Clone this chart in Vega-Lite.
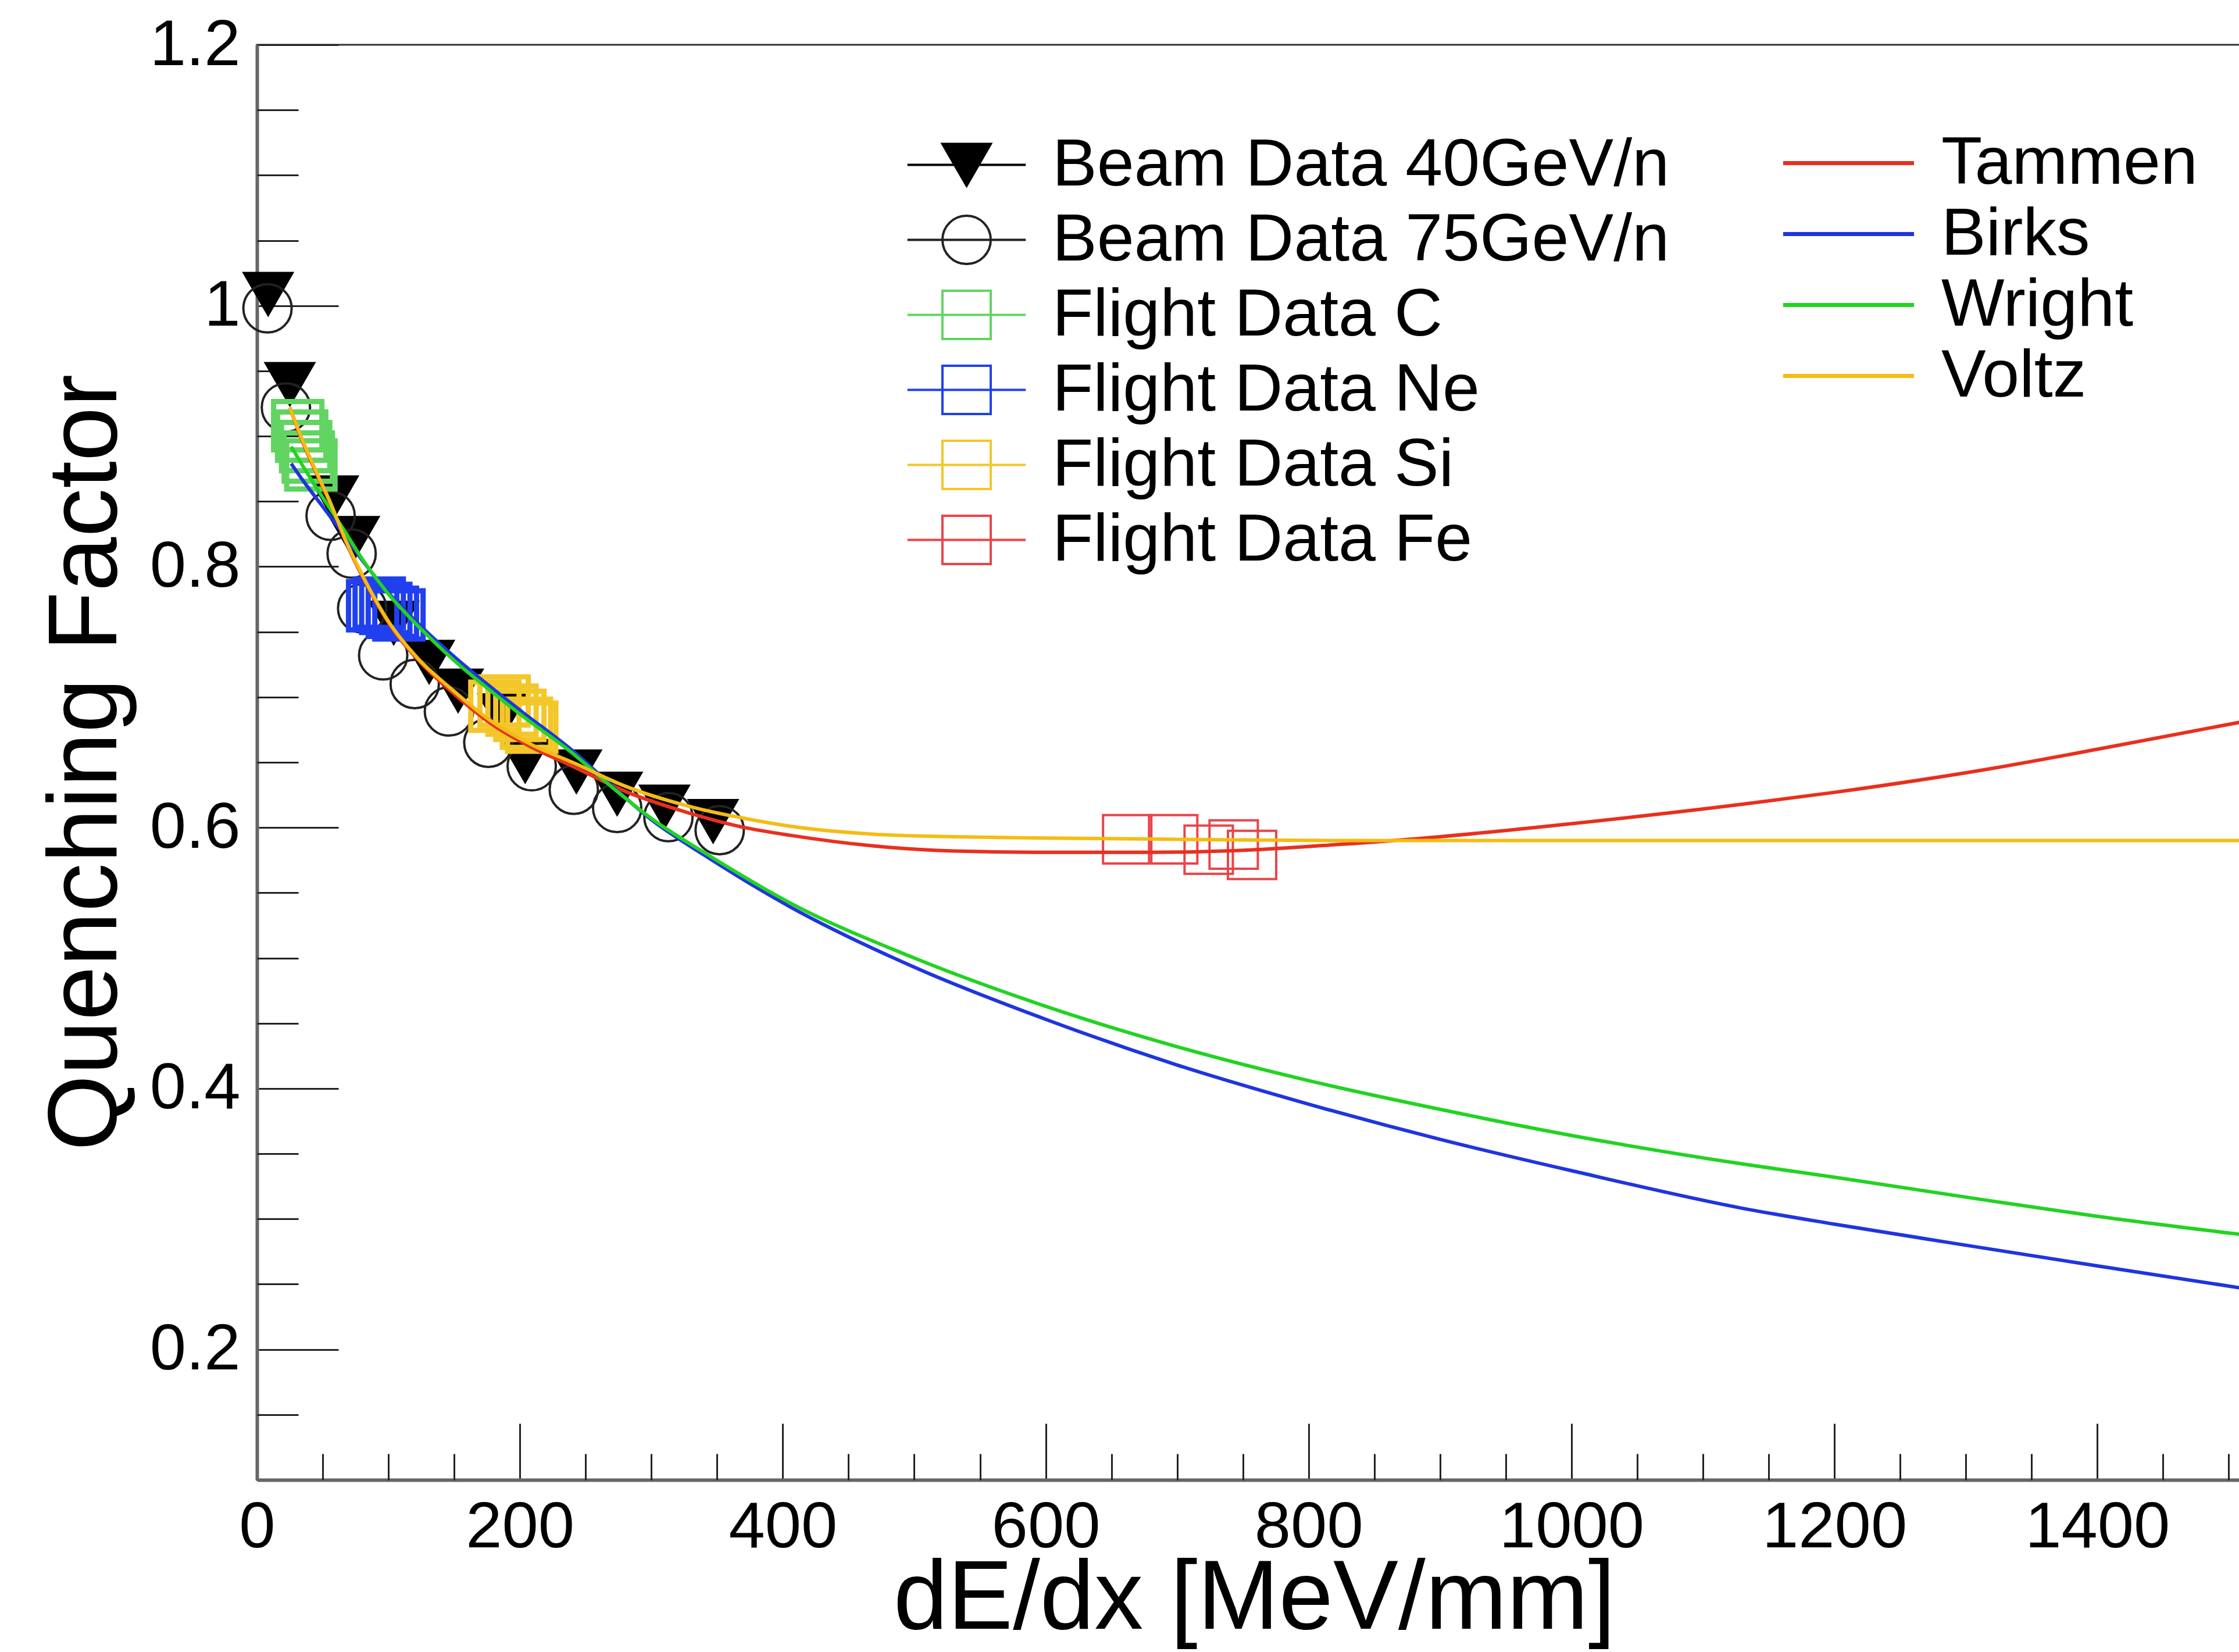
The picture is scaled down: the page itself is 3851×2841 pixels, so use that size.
{
  "$schema": "https://vega.github.io/schema/vega-lite/v6.json",
  "width": 3414,
  "height": 2468,
  "autosize": {"type": "none"},
  "padding": {"left": 442, "top": 77, "right": 0, "bottom": 296},
  "background": "white",
  "config": {
    "view": {"stroke": "#333333", "strokeWidth": 3},
    "font": "Liberation Sans"
  },
  "datasets": {
    "points": [
      {"series": "Beam Data 40GeV/n", "dEdx": 8.5, "Q": 1.009},
      {"series": "Beam Data 40GeV/n", "dEdx": 25, "Q": 0.940},
      {"series": "Beam Data 40GeV/n", "dEdx": 58, "Q": 0.853},
      {"series": "Beam Data 40GeV/n", "dEdx": 74, "Q": 0.822},
      {"series": "Beam Data 40GeV/n", "dEdx": 104, "Q": 0.757},
      {"series": "Beam Data 40GeV/n", "dEdx": 131, "Q": 0.727},
      {"series": "Beam Data 40GeV/n", "dEdx": 153, "Q": 0.705},
      {"series": "Beam Data 40GeV/n", "dEdx": 187, "Q": 0.686},
      {"series": "Beam Data 40GeV/n", "dEdx": 204, "Q": 0.651},
      {"series": "Beam Data 40GeV/n", "dEdx": 243, "Q": 0.643},
      {"series": "Beam Data 40GeV/n", "dEdx": 274, "Q": 0.626},
      {"series": "Beam Data 40GeV/n", "dEdx": 310, "Q": 0.616},
      {"series": "Beam Data 40GeV/n", "dEdx": 347, "Q": 0.605},
      {"series": "Beam Data 75GeV/n", "dEdx": 8, "Q": 0.998},
      {"series": "Beam Data 75GeV/n", "dEdx": 22, "Q": 0.922},
      {"series": "Beam Data 75GeV/n", "dEdx": 56, "Q": 0.839},
      {"series": "Beam Data 75GeV/n", "dEdx": 72, "Q": 0.810},
      {"series": "Beam Data 75GeV/n", "dEdx": 80, "Q": 0.768},
      {"series": "Beam Data 75GeV/n", "dEdx": 96, "Q": 0.732},
      {"series": "Beam Data 75GeV/n", "dEdx": 120, "Q": 0.710},
      {"series": "Beam Data 75GeV/n", "dEdx": 146, "Q": 0.689},
      {"series": "Beam Data 75GeV/n", "dEdx": 176, "Q": 0.665},
      {"series": "Beam Data 75GeV/n", "dEdx": 209, "Q": 0.647},
      {"series": "Beam Data 75GeV/n", "dEdx": 241, "Q": 0.629},
      {"series": "Beam Data 75GeV/n", "dEdx": 274, "Q": 0.615},
      {"series": "Beam Data 75GeV/n", "dEdx": 313, "Q": 0.608},
      {"series": "Beam Data 75GeV/n", "dEdx": 352, "Q": 0.598},
      {"series": "Flight Data C", "dEdx": 31, "Q": 0.908},
      {"series": "Flight Data C", "dEdx": 34, "Q": 0.900},
      {"series": "Flight Data C", "dEdx": 37, "Q": 0.892},
      {"series": "Flight Data C", "dEdx": 39, "Q": 0.884},
      {"series": "Flight Data C", "dEdx": 41, "Q": 0.878},
      {"series": "Flight Data Ne", "dEdx": 88, "Q": 0.770},
      {"series": "Flight Data Ne", "dEdx": 93, "Q": 0.772},
      {"series": "Flight Data Ne", "dEdx": 98, "Q": 0.768},
      {"series": "Flight Data Ne", "dEdx": 103, "Q": 0.765},
      {"series": "Flight Data Ne", "dEdx": 108, "Q": 0.763},
      {"series": "Flight Data Si", "dEdx": 181, "Q": 0.693},
      {"series": "Flight Data Si", "dEdx": 188, "Q": 0.697},
      {"series": "Flight Data Si", "dEdx": 194, "Q": 0.690},
      {"series": "Flight Data Si", "dEdx": 200, "Q": 0.686},
      {"series": "Flight Data Si", "dEdx": 205, "Q": 0.680},
      {"series": "Flight Data Si", "dEdx": 209, "Q": 0.677},
      {"series": "Flight Data Fe", "dEdx": 662, "Q": 0.591},
      {"series": "Flight Data Fe", "dEdx": 697, "Q": 0.591},
      {"series": "Flight Data Fe", "dEdx": 724, "Q": 0.583},
      {"series": "Flight Data Fe", "dEdx": 743, "Q": 0.587},
      {"series": "Flight Data Fe", "dEdx": 757, "Q": 0.579}
    ],
    "curves": [
      {"model": "Tammen", "dEdx": 25, "Q": 0.922},
      {"model": "Tammen", "dEdx": 35, "Q": 0.895},
      {"model": "Tammen", "dEdx": 45, "Q": 0.872},
      {"model": "Tammen", "dEdx": 55, "Q": 0.850},
      {"model": "Tammen", "dEdx": 68, "Q": 0.818},
      {"model": "Tammen", "dEdx": 84, "Q": 0.785},
      {"model": "Tammen", "dEdx": 100, "Q": 0.757},
      {"model": "Tammen", "dEdx": 123, "Q": 0.728},
      {"model": "Tammen", "dEdx": 147, "Q": 0.705},
      {"model": "Tammen", "dEdx": 179, "Q": 0.679},
      {"model": "Tammen", "dEdx": 210, "Q": 0.661},
      {"model": "Tammen", "dEdx": 240, "Q": 0.647},
      {"model": "Tammen", "dEdx": 282, "Q": 0.627},
      {"model": "Tammen", "dEdx": 326, "Q": 0.612},
      {"model": "Tammen", "dEdx": 371, "Q": 0.600},
      {"model": "Tammen", "dEdx": 406, "Q": 0.594},
      {"model": "Tammen", "dEdx": 468, "Q": 0.586},
      {"model": "Tammen", "dEdx": 530, "Q": 0.582},
      {"model": "Tammen", "dEdx": 600, "Q": 0.581},
      {"model": "Tammen", "dEdx": 680, "Q": 0.581},
      {"model": "Tammen", "dEdx": 760, "Q": 0.583},
      {"model": "Tammen", "dEdx": 822, "Q": 0.587},
      {"model": "Tammen", "dEdx": 900, "Q": 0.593},
      {"model": "Tammen", "dEdx": 1000, "Q": 0.603},
      {"model": "Tammen", "dEdx": 1131, "Q": 0.618},
      {"model": "Tammen", "dEdx": 1200, "Q": 0.627},
      {"model": "Tammen", "dEdx": 1318, "Q": 0.645},
      {"model": "Tammen", "dEdx": 1400, "Q": 0.660},
      {"model": "Tammen", "dEdx": 1510, "Q": 0.681},
      {"model": "Birks", "dEdx": 26, "Q": 0.879},
      {"model": "Birks", "dEdx": 35, "Q": 0.866},
      {"model": "Birks", "dEdx": 50, "Q": 0.846},
      {"model": "Birks", "dEdx": 65, "Q": 0.826},
      {"model": "Birks", "dEdx": 80, "Q": 0.805},
      {"model": "Birks", "dEdx": 100, "Q": 0.780},
      {"model": "Birks", "dEdx": 125, "Q": 0.754},
      {"model": "Birks", "dEdx": 150, "Q": 0.731},
      {"model": "Birks", "dEdx": 175, "Q": 0.710},
      {"model": "Birks", "dEdx": 200, "Q": 0.690},
      {"model": "Birks", "dEdx": 240, "Q": 0.659},
      {"model": "Birks", "dEdx": 270, "Q": 0.632},
      {"model": "Birks", "dEdx": 300, "Q": 0.606},
      {"model": "Birks", "dEdx": 340, "Q": 0.579},
      {"model": "Birks", "dEdx": 406, "Q": 0.539},
      {"model": "Birks", "dEdx": 500, "Q": 0.493},
      {"model": "Birks", "dEdx": 600, "Q": 0.453},
      {"model": "Birks", "dEdx": 700, "Q": 0.418},
      {"model": "Birks", "dEdx": 800, "Q": 0.388},
      {"model": "Birks", "dEdx": 900, "Q": 0.361},
      {"model": "Birks", "dEdx": 1000, "Q": 0.337},
      {"model": "Birks", "dEdx": 1131, "Q": 0.308},
      {"model": "Birks", "dEdx": 1200, "Q": 0.296},
      {"model": "Birks", "dEdx": 1318, "Q": 0.277},
      {"model": "Birks", "dEdx": 1400, "Q": 0.264},
      {"model": "Birks", "dEdx": 1510, "Q": 0.247},
      {"model": "Wright", "dEdx": 26, "Q": 0.892},
      {"model": "Wright", "dEdx": 35, "Q": 0.877},
      {"model": "Wright", "dEdx": 50, "Q": 0.853},
      {"model": "Wright", "dEdx": 65, "Q": 0.830},
      {"model": "Wright", "dEdx": 80, "Q": 0.806},
      {"model": "Wright", "dEdx": 100, "Q": 0.779},
      {"model": "Wright", "dEdx": 125, "Q": 0.752},
      {"model": "Wright", "dEdx": 150, "Q": 0.728},
      {"model": "Wright", "dEdx": 175, "Q": 0.707},
      {"model": "Wright", "dEdx": 200, "Q": 0.687},
      {"model": "Wright", "dEdx": 240, "Q": 0.657},
      {"model": "Wright", "dEdx": 270, "Q": 0.631},
      {"model": "Wright", "dEdx": 300, "Q": 0.607},
      {"model": "Wright", "dEdx": 340, "Q": 0.581},
      {"model": "Wright", "dEdx": 406, "Q": 0.542},
      {"model": "Wright", "dEdx": 500, "Q": 0.500},
      {"model": "Wright", "dEdx": 600, "Q": 0.463},
      {"model": "Wright", "dEdx": 700, "Q": 0.432},
      {"model": "Wright", "dEdx": 800, "Q": 0.406},
      {"model": "Wright", "dEdx": 900, "Q": 0.384},
      {"model": "Wright", "dEdx": 1000, "Q": 0.364},
      {"model": "Wright", "dEdx": 1131, "Q": 0.342},
      {"model": "Wright", "dEdx": 1200, "Q": 0.332},
      {"model": "Wright", "dEdx": 1318, "Q": 0.314},
      {"model": "Wright", "dEdx": 1400, "Q": 0.302},
      {"model": "Wright", "dEdx": 1510, "Q": 0.288},
      {"model": "Voltz", "dEdx": 25, "Q": 0.922},
      {"model": "Voltz", "dEdx": 35, "Q": 0.896},
      {"model": "Voltz", "dEdx": 45, "Q": 0.873},
      {"model": "Voltz", "dEdx": 55, "Q": 0.851},
      {"model": "Voltz", "dEdx": 68, "Q": 0.819},
      {"model": "Voltz", "dEdx": 84, "Q": 0.786},
      {"model": "Voltz", "dEdx": 100, "Q": 0.758},
      {"model": "Voltz", "dEdx": 123, "Q": 0.729},
      {"model": "Voltz", "dEdx": 147, "Q": 0.707},
      {"model": "Voltz", "dEdx": 179, "Q": 0.681},
      {"model": "Voltz", "dEdx": 210, "Q": 0.663},
      {"model": "Voltz", "dEdx": 240, "Q": 0.650},
      {"model": "Voltz", "dEdx": 282, "Q": 0.631},
      {"model": "Voltz", "dEdx": 326, "Q": 0.617},
      {"model": "Voltz", "dEdx": 371, "Q": 0.607},
      {"model": "Voltz", "dEdx": 406, "Q": 0.601},
      {"model": "Voltz", "dEdx": 468, "Q": 0.595},
      {"model": "Voltz", "dEdx": 530, "Q": 0.593},
      {"model": "Voltz", "dEdx": 600, "Q": 0.592},
      {"model": "Voltz", "dEdx": 700, "Q": 0.591},
      {"model": "Voltz", "dEdx": 822, "Q": 0.590},
      {"model": "Voltz", "dEdx": 1000, "Q": 0.590},
      {"model": "Voltz", "dEdx": 1200, "Q": 0.590},
      {"model": "Voltz", "dEdx": 1510, "Q": 0.590}
    ]
  },
  "layer": [
    {
      "data": {"name": "points"},
      "transform": [{"filter": {"field": "series", "oneOf": ["Beam Data 40GeV/n", "Beam Data 75GeV/n", "Flight Data Fe"]}}],
      "mark": {"type": "point", "size": 6900, "opacity": 1, "strokeWidth": 4},
      "encoding": {
        "x": {
          "field": "dEdx", "type": "quantitative",
          "scale": {"domain": [0, 1510], "nice": false, "zero": false},
          "axis": {
            "orient": "bottom",
            "values": [0, 200, 400, 600, 800, 1000, 1200, 1400],
            "tickSize": -97, "tickWidth": 3, "tickColor": "#222222",
            "domain": true, "domainColor": "#666666", "domainWidth": 6,
            "grid": false,
            "labelFont": "Liberation Sans", "labelFontSize": 112, "labelColor": "#000000",
            "labelPadding": 124, "labelFlush": false, "labelOverlap": false, "labelBound": false, "labelLimit": 0,
            "format": "d",
            "title": "dE/dx [MeV/mm]", "titleFont": "Liberation Sans", "titleFontSize": 168,
            "titleFontWeight": "normal", "titleColor": "#000000", "titleLimit": 0,
            "titleX": 1715, "titleY": 255, "titleBaseline": "alphabetic", "titleAlign": "center", "titleAngle": 0
          }
        },
        "y": {
          "field": "Q", "type": "quantitative",
          "scale": {"domain": [0.1, 1.2], "nice": false, "zero": false},
          "axis": {
            "orient": "left",
            "values": [0.2, 0.4, 0.6, 0.8, 1, 1.2],
            "tickSize": -140, "tickWidth": 3, "tickColor": "#222222",
            "domain": true, "domainColor": "#666666", "domainWidth": 6,
            "grid": false,
            "labelFont": "Liberation Sans", "labelFontSize": 112, "labelColor": "#000000",
            "labelPadding": 169, "labelFlush": false, "labelOverlap": false, "labelBound": false, "labelLimit": 0,
            "labelExpr": "datum.value == 1 ? '1' : format(datum.value, '.1f')",
            "title": "Quenching Factor", "titleFont": "Liberation Sans", "titleFontSize": 168,
            "titleFontWeight": "normal", "titleColor": "#000000", "titleLimit": 0,
            "titleX": -243, "titleY": 1234, "titleAngle": -90, "titleBaseline": "alphabetic", "titleAlign": "center"
          }
        },
        "shape": {
          "field": "series", "type": "nominal",
          "scale": {
            "domain": ["Beam Data 40GeV/n", "Beam Data 75GeV/n", "Flight Data C", "Flight Data Ne", "Flight Data Si", "Flight Data Fe"],
            "range": ["M-1,-0.866L1,-0.866L0,0.866Z", "M1,0A1,1 0 1,1 -1,0A1,1 0 1,1 1,0Z", "M-1,-1H1V1H-1Z", "M-1,-1H1V1H-1Z", "M-1,-1H1V1H-1Z", "M-1,-1H1V1H-1Z"]
          },
          "legend": null
        },
        "fill": {
          "field": "series", "type": "nominal",
          "scale": {
            "domain": ["Beam Data 40GeV/n", "Beam Data 75GeV/n", "Flight Data C", "Flight Data Ne", "Flight Data Si", "Flight Data Fe"],
            "range": ["#000000", "transparent", "transparent", "transparent", "transparent", "transparent"]
          },
          "legend": null
        },
        "stroke": {
          "field": "series", "type": "nominal",
          "scale": {
            "domain": ["Beam Data 40GeV/n", "Beam Data 75GeV/n", "Flight Data C", "Flight Data Ne", "Flight Data Si", "Flight Data Fe"],
            "range": ["#000000", "#222222", "#62d462", "#2040f0", "#f3c62a", "#e8454a"]
          },
          "legend": null
        }
      }
    },
    {
      "data": {"name": "points"},
      "transform": [{"filter": {"field": "series", "oneOf": ["Flight Data C", "Flight Data Ne", "Flight Data Si"]}}],
      "mark": {"type": "point", "size": 6900, "opacity": 1, "strokeWidth": 9},
      "encoding": {
        "x": {"field": "dEdx", "type": "quantitative", "axis": null},
        "y": {"field": "Q", "type": "quantitative", "axis": null},
        "shape": {
          "field": "series", "type": "nominal",
          "scale": {
            "domain": ["Beam Data 40GeV/n", "Beam Data 75GeV/n", "Flight Data C", "Flight Data Ne", "Flight Data Si", "Flight Data Fe"],
            "range": ["M-1,-0.866L1,-0.866L0,0.866Z", "M1,0A1,1 0 1,1 -1,0A1,1 0 1,1 1,0Z", "M-1,-1H1V1H-1Z", "M-1,-1H1V1H-1Z", "M-1,-1H1V1H-1Z", "M-1,-1H1V1H-1Z"]
          },
          "legend": null
        },
        "fill": {
          "field": "series", "type": "nominal",
          "scale": {
            "domain": ["Beam Data 40GeV/n", "Beam Data 75GeV/n", "Flight Data C", "Flight Data Ne", "Flight Data Si", "Flight Data Fe"],
            "range": ["#000000", "transparent", "transparent", "transparent", "transparent", "transparent"]
          },
          "legend": null
        },
        "stroke": {
          "field": "series", "type": "nominal",
          "scale": {
            "domain": ["Beam Data 40GeV/n", "Beam Data 75GeV/n", "Flight Data C", "Flight Data Ne", "Flight Data Si", "Flight Data Fe"],
            "range": ["#000000", "#222222", "#62d462", "#2040f0", "#f3c62a", "#e8454a"]
          },
          "legend": null
        }
      }
    },
    {
      "data": {"name": "points"},
      "mark": {"type": "point", "size": 6900, "opacity": 0, "strokeWidth": 4},
      "encoding": {
        "x": {"field": "dEdx", "type": "quantitative", "axis": null},
        "y": {"field": "Q", "type": "quantitative", "axis": null},
        "shape": {
          "field": "series", "type": "nominal",
          "scale": {
            "domain": ["Beam Data 40GeV/n", "Beam Data 75GeV/n", "Flight Data C", "Flight Data Ne", "Flight Data Si", "Flight Data Fe"],
            "range": ["M-2.45,0H2.45M-1,-0.866L1,-0.866L0,0.866Z", "M-2.45,0H2.45M1,0A1,1 0 1,1 -1,0A1,1 0 1,1 1,0Z", "M-2.45,0H2.45M-1,-1H1V1H-1Z", "M-2.45,0H2.45M-1,-1H1V1H-1Z", "M-2.45,0H2.45M-1,-1H1V1H-1Z", "M-2.45,0H2.45M-1,-1H1V1H-1Z"]
          },
          "legend": {
            "orient": "none", "legendX": 1163, "legendY": 149, "title": null, "direction": "vertical", "padding": 0,
            "symbolSize": 6900, "symbolStrokeWidth": 4, "symbolOpacity": 1,
            "labelFont": "Liberation Sans", "labelFontSize": 115, "labelColor": "#000000", "labelLimit": 0, "labelOffset": 90,
            "rowPadding": 13
          }
        },
        "fill": {
          "field": "series", "type": "nominal",
          "scale": {
            "domain": ["Beam Data 40GeV/n", "Beam Data 75GeV/n", "Flight Data C", "Flight Data Ne", "Flight Data Si", "Flight Data Fe"],
            "range": ["#000000", "transparent", "transparent", "transparent", "transparent", "transparent"]
          },
          "legend": {
            "orient": "none", "legendX": 1163, "legendY": 149, "title": null, "direction": "vertical", "padding": 0,
            "symbolSize": 6900, "symbolStrokeWidth": 4, "symbolOpacity": 1,
            "labelFont": "Liberation Sans", "labelFontSize": 115, "labelColor": "#000000", "labelLimit": 0, "labelOffset": 90,
            "rowPadding": 13
          }
        },
        "stroke": {
          "field": "series", "type": "nominal",
          "scale": {
            "domain": ["Beam Data 40GeV/n", "Beam Data 75GeV/n", "Flight Data C", "Flight Data Ne", "Flight Data Si", "Flight Data Fe"],
            "range": ["#000000", "#222222", "#62d462", "#2040f0", "#f3c62a", "#e8454a"]
          },
          "legend": {
            "orient": "none", "legendX": 1163, "legendY": 149, "title": null, "direction": "vertical", "padding": 0,
            "symbolSize": 6900, "symbolStrokeWidth": 4, "symbolOpacity": 1,
            "labelFont": "Liberation Sans", "labelFontSize": 115, "labelColor": "#000000", "labelLimit": 0, "labelOffset": 90,
            "rowPadding": 13
          }
        }
      }
    },
    {
      "data": {"name": "curves"},
      "mark": {"type": "line", "strokeWidth": 6, "interpolate": "monotone"},
      "encoding": {
        "x": {
          "field": "dEdx", "type": "quantitative",
          "axis": {
            "orient": "bottom",
            "values": [50, 100, 150, 250, 300, 350, 450, 500, 550, 650, 700, 750, 850, 900, 950, 1050, 1100, 1150, 1250, 1300, 1350, 1450, 1500],
            "tickSize": -45, "tickWidth": 3, "tickColor": "#222222",
            "domain": false, "grid": false, "labels": false, "title": null
          }
        },
        "y": {
          "field": "Q", "type": "quantitative",
          "axis": {
            "orient": "left",
            "values": [0.15, 0.25, 0.3, 0.35, 0.45, 0.5, 0.55, 0.65, 0.7, 0.75, 0.85, 0.9, 0.95, 1.05, 1.1, 1.15],
            "tickSize": -71, "tickWidth": 3, "tickColor": "#222222",
            "domain": false, "grid": false, "labels": false, "title": null
          }
        },
        "color": {
          "field": "model", "type": "nominal",
          "scale": {
            "domain": ["Tammen", "Birks", "Wright", "Voltz"],
            "range": ["#e8301e", "#1f35e0", "#22d322", "#f4bc14"]
          },
          "legend": {
            "orient": "none", "legendX": 2680, "legendY": 146, "title": null, "direction": "vertical", "padding": 0,
            "symbolType": "M-5,0H5", "symbolSize": 2025, "symbolStrokeWidth": 7,
            "labelFont": "Liberation Sans", "labelFontSize": 115, "labelColor": "#000000", "labelLimit": 0, "labelOffset": 102,
            "rowPadding": 6
          }
        }
      }
    }
  ],
  "resolve": {
    "axis": {"x": "independent", "y": "independent"},
    "scale": {"shape": "independent", "fill": "independent", "stroke": "independent"},
    "legend": {"shape": "independent", "fill": "independent", "stroke": "independent"}
  }
}
